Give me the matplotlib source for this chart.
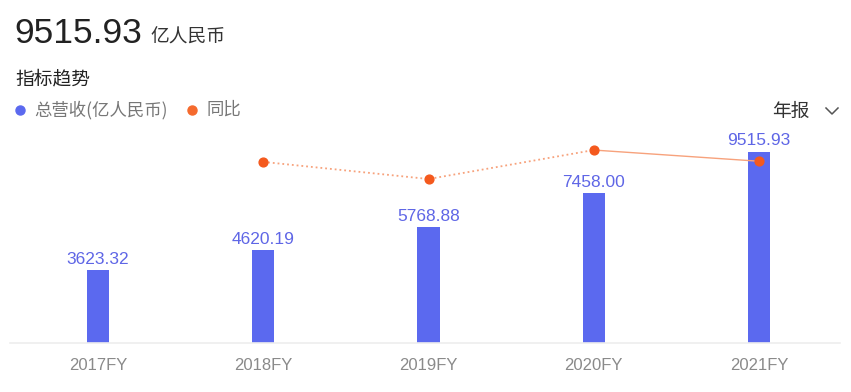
import matplotlib.pyplot as plt
from matplotlib.lines import Line2D

# data
years = ['2017FY', '2018FY', '2019FY', '2020FY', '2021FY']
revenue = [3623.32, 4620.19, 5768.88, 7458.00, 9515.93]
yoy_years = [1, 2, 3, 4]
yoy = [27.5, 24.9, 29.3, 27.6]

cjk = ['Noto Sans CJK SC', 'DejaVu Sans']
num = ['Liberation Sans', 'DejaVu Sans']
bar_color = '#5b69ef'
line_color = '#f7a27c'
dot_color = '#f4591d'

fig = plt.figure(figsize=(8.51, 3.92), dpi=100)
W, H = 851, 392

def fx(px):
    return px / W

def fy(py):
    return 1 - py / H

# axes: x 10..840 px, y 100..343 px
ax = fig.add_axes([fx(10), fy(343), fx(830), (343 - 100) / H])
x = list(range(len(years)))
ax.bar(x, revenue, width=0.135, color=bar_color, zorder=2)
ax.set_xlim(-0.533, 4.49)
ax.set_ylim(0, 12107)
for i, v in zip(x, revenue):
    ax.text(i, v + 180, f'{v:.2f}', ha='center', va='bottom',
            color='#5f66e6', fontsize=12.5, family=num)
ax.set_xticks(x)
ax.set_xticklabels(years, color='#8a8a8a', fontsize=12, family=num)
ax.tick_params(axis='x', length=0, pad=11)
ax.set_yticks([])
for s in ['top', 'right', 'left']:
    ax.spines[s].set_visible(False)
ax.spines['bottom'].set_color('#eeeeee')
ax.spines['bottom'].set_linewidth(1.2)

ax2 = ax.twinx()
ax2.set_ylim(0, 36.9)
ax2.plot(yoy_years[:3], yoy[:3], color=line_color, lw=1.3, ls=':', zorder=3)
ax2.plot(yoy_years[2:], yoy[2:], color=line_color, lw=1.0, ls='-', zorder=3)
ax2.scatter(yoy_years, yoy, color=dot_color, s=40, zorder=4)
ax2.set_yticks([])
for s in ax2.spines.values():
    s.set_visible(False)

# header text
fig.text(fx(14), fy(43), '9515.93', fontsize=25.5, color='#222222',
         family=num, va='baseline')
fig.text(fx(150), fy(43), '亿人民币', fontsize=13.5, color='#333333',
         family=cjk, va='baseline')
fig.text(fx(15), fy(79), '指标趋势', fontsize=13.5, color='#222222',
         family=cjk, va='center')
fig.add_artist(Line2D([fx(20)], [fy(110)], marker='o', ms=6.5, color=bar_color, lw=0))
fig.text(fx(34), fy(110), '总营收(亿人民币)', fontsize=12.5, color='#777777',
         family=cjk, va='center')
fig.add_artist(Line2D([fx(192)], [fy(110)], marker='o', ms=6.5, color='#f56a2d', lw=0))
fig.text(fx(206), fy(110), '同比', fontsize=12.5, color='#777777',
         family=cjk, va='center')
fig.text(fx(772), fy(111), '年报', fontsize=13.5, color='#333333',
         family=cjk, va='center')
fig.add_artist(Line2D([fx(826), fx(832), fx(838)], [fy(108), fy(114), fy(108)],
                      color='#555555', lw=1.1))

plt.savefig('out.png', dpi=100)
plt.close()
